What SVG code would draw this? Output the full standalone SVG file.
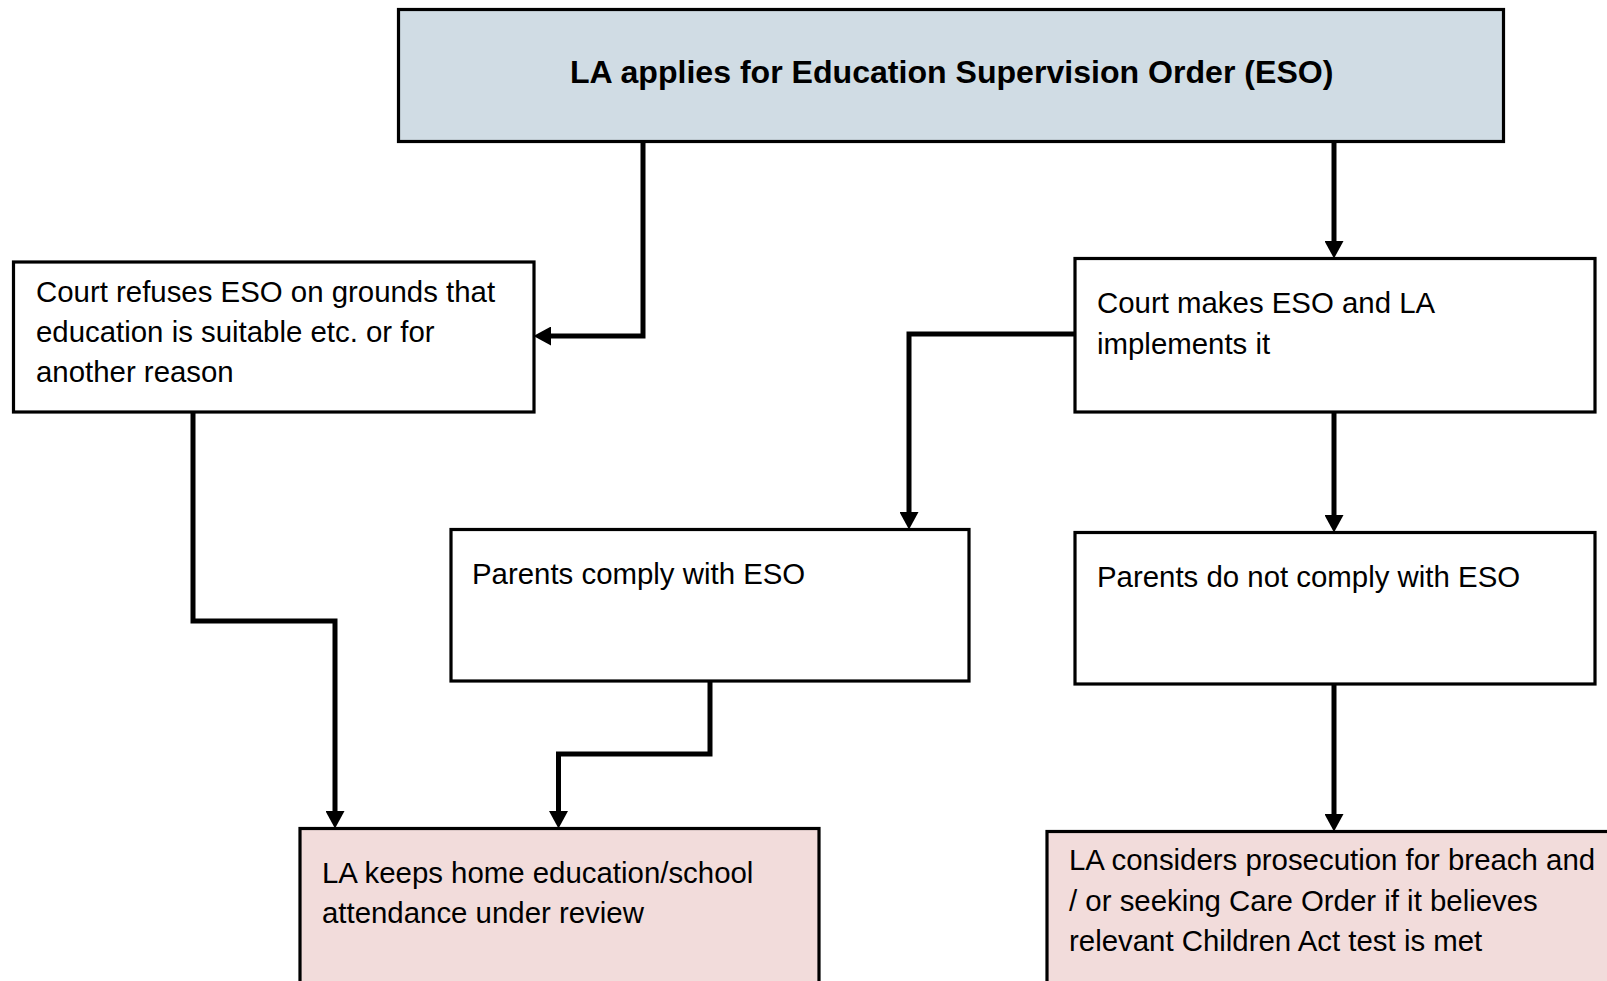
<svg xmlns="http://www.w3.org/2000/svg" width="1607" height="981" viewBox="0 0 1607 981">
<style>
.box{fill:#ffffff;stroke:#000;stroke-width:3.2}
.blue{fill:#D0DCE4}
.pink{fill:#F2DCDB}
.t{font-family:"Liberation Sans",Arial,sans-serif;font-size:29.4px;fill:#000}
.title{font-family:"Liberation Sans",Arial,sans-serif;font-size:32.1px;font-weight:bold;fill:#000;text-anchor:middle}
.c{fill:none;stroke:#000;stroke-width:5;stroke-linejoin:miter}
</style>
<defs>
<marker id="ah" markerUnits="userSpaceOnUse" markerWidth="19" markerHeight="19" refX="5" refY="9.5" orient="auto">
<path d="M0,0 L17.5,9.5 L0,19 z" fill="#000"/>
</marker>
</defs>
<rect width="1607" height="981" fill="#fff"/>
<g id="connectors">
<path class="c" d="M643,142 V336 H546" marker-end="url(#ah)"/>
<path class="c" d="M1334,142 V246" marker-end="url(#ah)"/>
<path class="c" d="M1075,334 H909 V517" marker-end="url(#ah)"/>
<path class="c" d="M1334,412 V520" marker-end="url(#ah)"/>
<path class="c" d="M193,412 V621 H335 V816" marker-end="url(#ah)"/>
<path class="c" d="M710,681 V754 H558.5 V816" marker-end="url(#ah)"/>
<path class="c" d="M1334,684 V819" marker-end="url(#ah)"/>
</g>
<g id="n-apply">
<rect class="box blue" x="398.5" y="9.5" width="1105" height="132"/>
<text class="title" x="951.7" y="83">LA applies for Education Supervision Order (ESO)</text>
</g>
<g id="n-refuse">
<rect class="box" x="13.5" y="262" width="520.5" height="150"/>
<text class="t" x="36" y="301.7">Court refuses ESO on grounds that</text>
<text class="t" x="36" y="341.9">education is suitable etc. or for</text>
<text class="t" x="36" y="382.2">another reason</text>
</g>
<g id="n-makes">
<rect class="box" x="1075" y="258.5" width="520" height="153.5"/>
<text class="t" x="1097" y="313">Court makes ESO and LA</text>
<text class="t" x="1097" y="353.5">implements it</text>
</g>
<g id="n-comply">
<rect class="box" x="451" y="529.5" width="518" height="151.5"/>
<text class="t" x="472" y="584">Parents comply with ESO</text>
</g>
<g id="n-notcomply">
<rect class="box" x="1075" y="532.5" width="520" height="151.5"/>
<text class="t" x="1097" y="586.5">Parents do not comply with ESO</text>
</g>
<g id="n-review">
<rect class="box pink" x="300" y="828.5" width="519" height="170"/>
<text class="t" x="322" y="882.5">LA keeps home education/school</text>
<text class="t" x="322" y="922.5">attendance under review</text>
</g>
<g id="n-prosecute">
<rect class="box pink" x="1047" y="831.5" width="580" height="170"/>
<text class="t" x="1069" y="870">LA considers prosecution for breach and</text>
<text class="t" x="1069" y="910.5">/ or seeking Care Order if it believes</text>
<text class="t" x="1069" y="951">relevant Children Act test is met</text>
</g>
</svg>
